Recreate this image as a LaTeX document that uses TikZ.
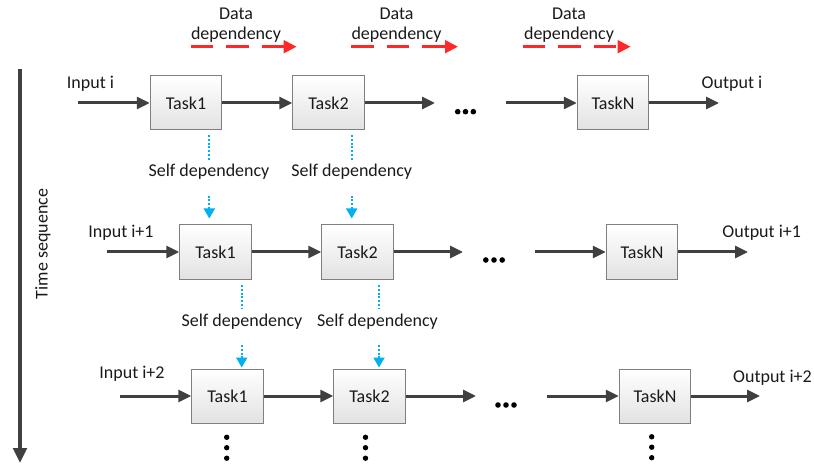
\documentclass[tikz,border=0pt]{standalone}
\usepackage{fontspec}
\setmainfont{Carlito}
\usetikzlibrary{arrows.meta}

\definecolor{flowgray}{HTML}{404040}
\definecolor{boxborder}{HTML}{7F7F7F}
\definecolor{boxfill}{HTML}{E2E2E2}
\definecolor{depred}{RGB}{255,40,40}
\definecolor{selfblue}{HTML}{00B0F0}
\definecolor{txt}{HTML}{1A1A1A}

\tikzset{
  task/.style={draw=boxborder, line width=1pt, top color=white, bottom color=boxfill,
    minimum width=71.5pt, minimum height=54pt, inner sep=0pt, text=txt,
    font=\fontsize{18}{20}\selectfont},
  lbl/.style={inner sep=0pt, anchor=base, text=txt, font=\fontsize{18}{20}\selectfont},
  flow/.style={draw=flowgray, line width=3pt, -{Triangle[length=13pt,width=12pt]}},
  timeflow/.style={draw=flowgray, line width=3.3pt, -{Triangle[length=15pt,width=13.5pt]}},
  datadep/.style={draw=depred, line width=3pt, dash pattern=on 22.5pt off 13pt,
    -{Triangle[length=13pt,width=12.5pt]}},
  selfdep/.style={draw=selfblue, line width=2pt, dash pattern=on 2pt off 1.8pt},
  selfarrow/.style={selfdep, -{Triangle[length=10pt,width=11pt]}},
  blob/.style={fill=black}
}

\begin{document}
\begin{tikzpicture}[x=1pt, y=-1pt]
\useasboundingbox (0,0) rectangle (814,465);

% ---- time axis ----
\coordinate (ts0) at (20,69);
\coordinate (ts1) at (20,463);
\draw[timeflow] (ts0) -- (ts1);
\node[lbl, rotate=90] (tslabel) at (47.5,244) {Time sequence};

% ---- data dependency legends ----
\node[lbl, anchor=center, align=center] (dd1) at (236,24.8) {Data\\dependency};
\node[lbl, anchor=center, align=center] (dd2) at (396.5,24.8) {Data\\dependency};
\node[lbl, anchor=center, align=center] (dd3) at (569,24.8) {Data\\dependency};
\coordinate (dd1s) at (190.7,46.7); \coordinate (dd1e) at (296.7,46.7);
\coordinate (dd2s) at (351,46.7);   \coordinate (dd2e) at (458,46.7);
\coordinate (dd3s) at (522.7,46.7); \coordinate (dd3e) at (630.7,46.7);
\draw[datadep] (dd1s) -- (dd1e);
\draw[datadep] (dd2s) -- (dd2e);
\draw[datadep] (dd3s) -- (dd3e);

% ---- row i ----
\node[task] (t11) at (186,103) {Task1};
\node[task] (t12) at (328.5,103) {Task2};
\node[task] (t1N) at (613,103) {TaskN};
\coordinate (in1) at (78,103);
\coordinate (gap1a) at (435,103);
\coordinate (gap1b) at (506,103);
\coordinate (out1) at (719,103);
\node[lbl] (in1lbl) at (90.5,89) {Input i};
\node[lbl] (out1lbl) at (732,89) {Output i};
\draw[flow] (in1) -- (t11);
\draw[flow] (t11) -- (t12);
\draw[flow] (t12) -- (gap1a);
\draw[flow] (gap1b) -- (t1N);
\draw[flow] (t1N) -- (out1);
\foreach \dx in {-7.8,0,7.8} \fill[blob] (465.5+\dx,111.7) circle (2.8);

% ---- row i+1 ----
\node[task] (t21) at (215.5,252) {Task1};
\node[task] (t22) at (357.5,252) {Task2};
\node[task] (t2N) at (642,252) {TaskN};
\coordinate (in2) at (106.7,252);
\coordinate (gap2a) at (463,252);
\coordinate (gap2b) at (535,252);
\coordinate (out2) at (748,252);
\node[lbl] (in2lbl) at (121,237.7) {Input i+1};
\node[lbl] (out2lbl) at (761.7,237.7) {Output i+1};
\draw[flow] (in2) -- (t21);
\draw[flow] (t21) -- (t22);
\draw[flow] (t22) -- (gap2a);
\draw[flow] (gap2b) -- (t2N);
\draw[flow] (t2N) -- (out2);
\foreach \dx in {-8.2,0,8.2} \fill[blob] (494+\dx,260) circle (2.8);

% ---- row i+2 ----
\node[task] (t31) at (227.5,396) {Task1};
\node[task] (t32) at (369.5,396) {Task2};
\node[task] (t3N) at (655,396) {TaskN};
\coordinate (in3) at (120,396);
\coordinate (gap3a) at (476,396);
\coordinate (gap3b) at (547,396);
\coordinate (out3) at (760,396);
\node[lbl] (in3lbl) at (132,378) {Input i+2};
\node[lbl] (out3lbl) at (772.5,382.3) {Output i+2};
\draw[flow] (in3) -- (t31);
\draw[flow] (t31) -- (t32);
\draw[flow] (t32) -- (gap3a);
\draw[flow] (gap3b) -- (t3N);
\draw[flow] (t3N) -- (out3);
\foreach \dx in {-8,0,8} \fill[blob] (506+\dx,405) circle (2.8);

% continuation below the last row
\foreach \y in {437.3,447.7,458.2} {
  \fill[blob] (226.7,\y) circle (2.7);
  \fill[blob] (365.5,\y) circle (2.7);
  \fill[blob] (651.7,\y-0.5) circle (2.7);
}

% ---- self dependencies, row i -> row i+1 ----
\node[lbl] (sd11) at (209,176.7) {Self dependency};
\node[lbl] (sd12) at (351.7,176.7) {Self dependency};
\coordinate (s11a) at (209.3,135);   \coordinate (s11b) at (209.3,160);
\coordinate (s11c) at (209.3,195.7);
\coordinate (s12a) at (351.7,135);   \coordinate (s12b) at (351.7,160);
\coordinate (s12c) at (351.7,195.7);
\draw[selfdep] (s11a) -- (s11b);
\draw[selfdep] (s12a) -- (s12b);
\draw[selfarrow, shorten >=6pt] (s11c) -- (s11c |- t21.north);
\draw[selfarrow, shorten >=6pt] (s12c) -- (s12c |- t22.north);

% ---- self dependencies, row i+1 -> row i+2 ----
\node[lbl] (sd21) at (242,326.7) {Self dependency};
\node[lbl] (sd22) at (377.5,326.7) {Self dependency};
\coordinate (s21a) at (241.7,285);   \coordinate (s21b) at (241.7,309);
\coordinate (s21c) at (241.7,345);
\coordinate (s22a) at (379,285);     \coordinate (s22b) at (379,309);
\coordinate (s22c) at (379,345);
\draw[selfdep] (s21a) -- (s21b);
\draw[selfdep] (s22a) -- (s22b);
\draw[selfarrow, shorten >=1pt] (s21c) -- (s21c |- t31.north);
\draw[selfarrow, shorten >=1pt] (s22c) -- (s22c |- t32.north);
\end{tikzpicture}
\end{document}
